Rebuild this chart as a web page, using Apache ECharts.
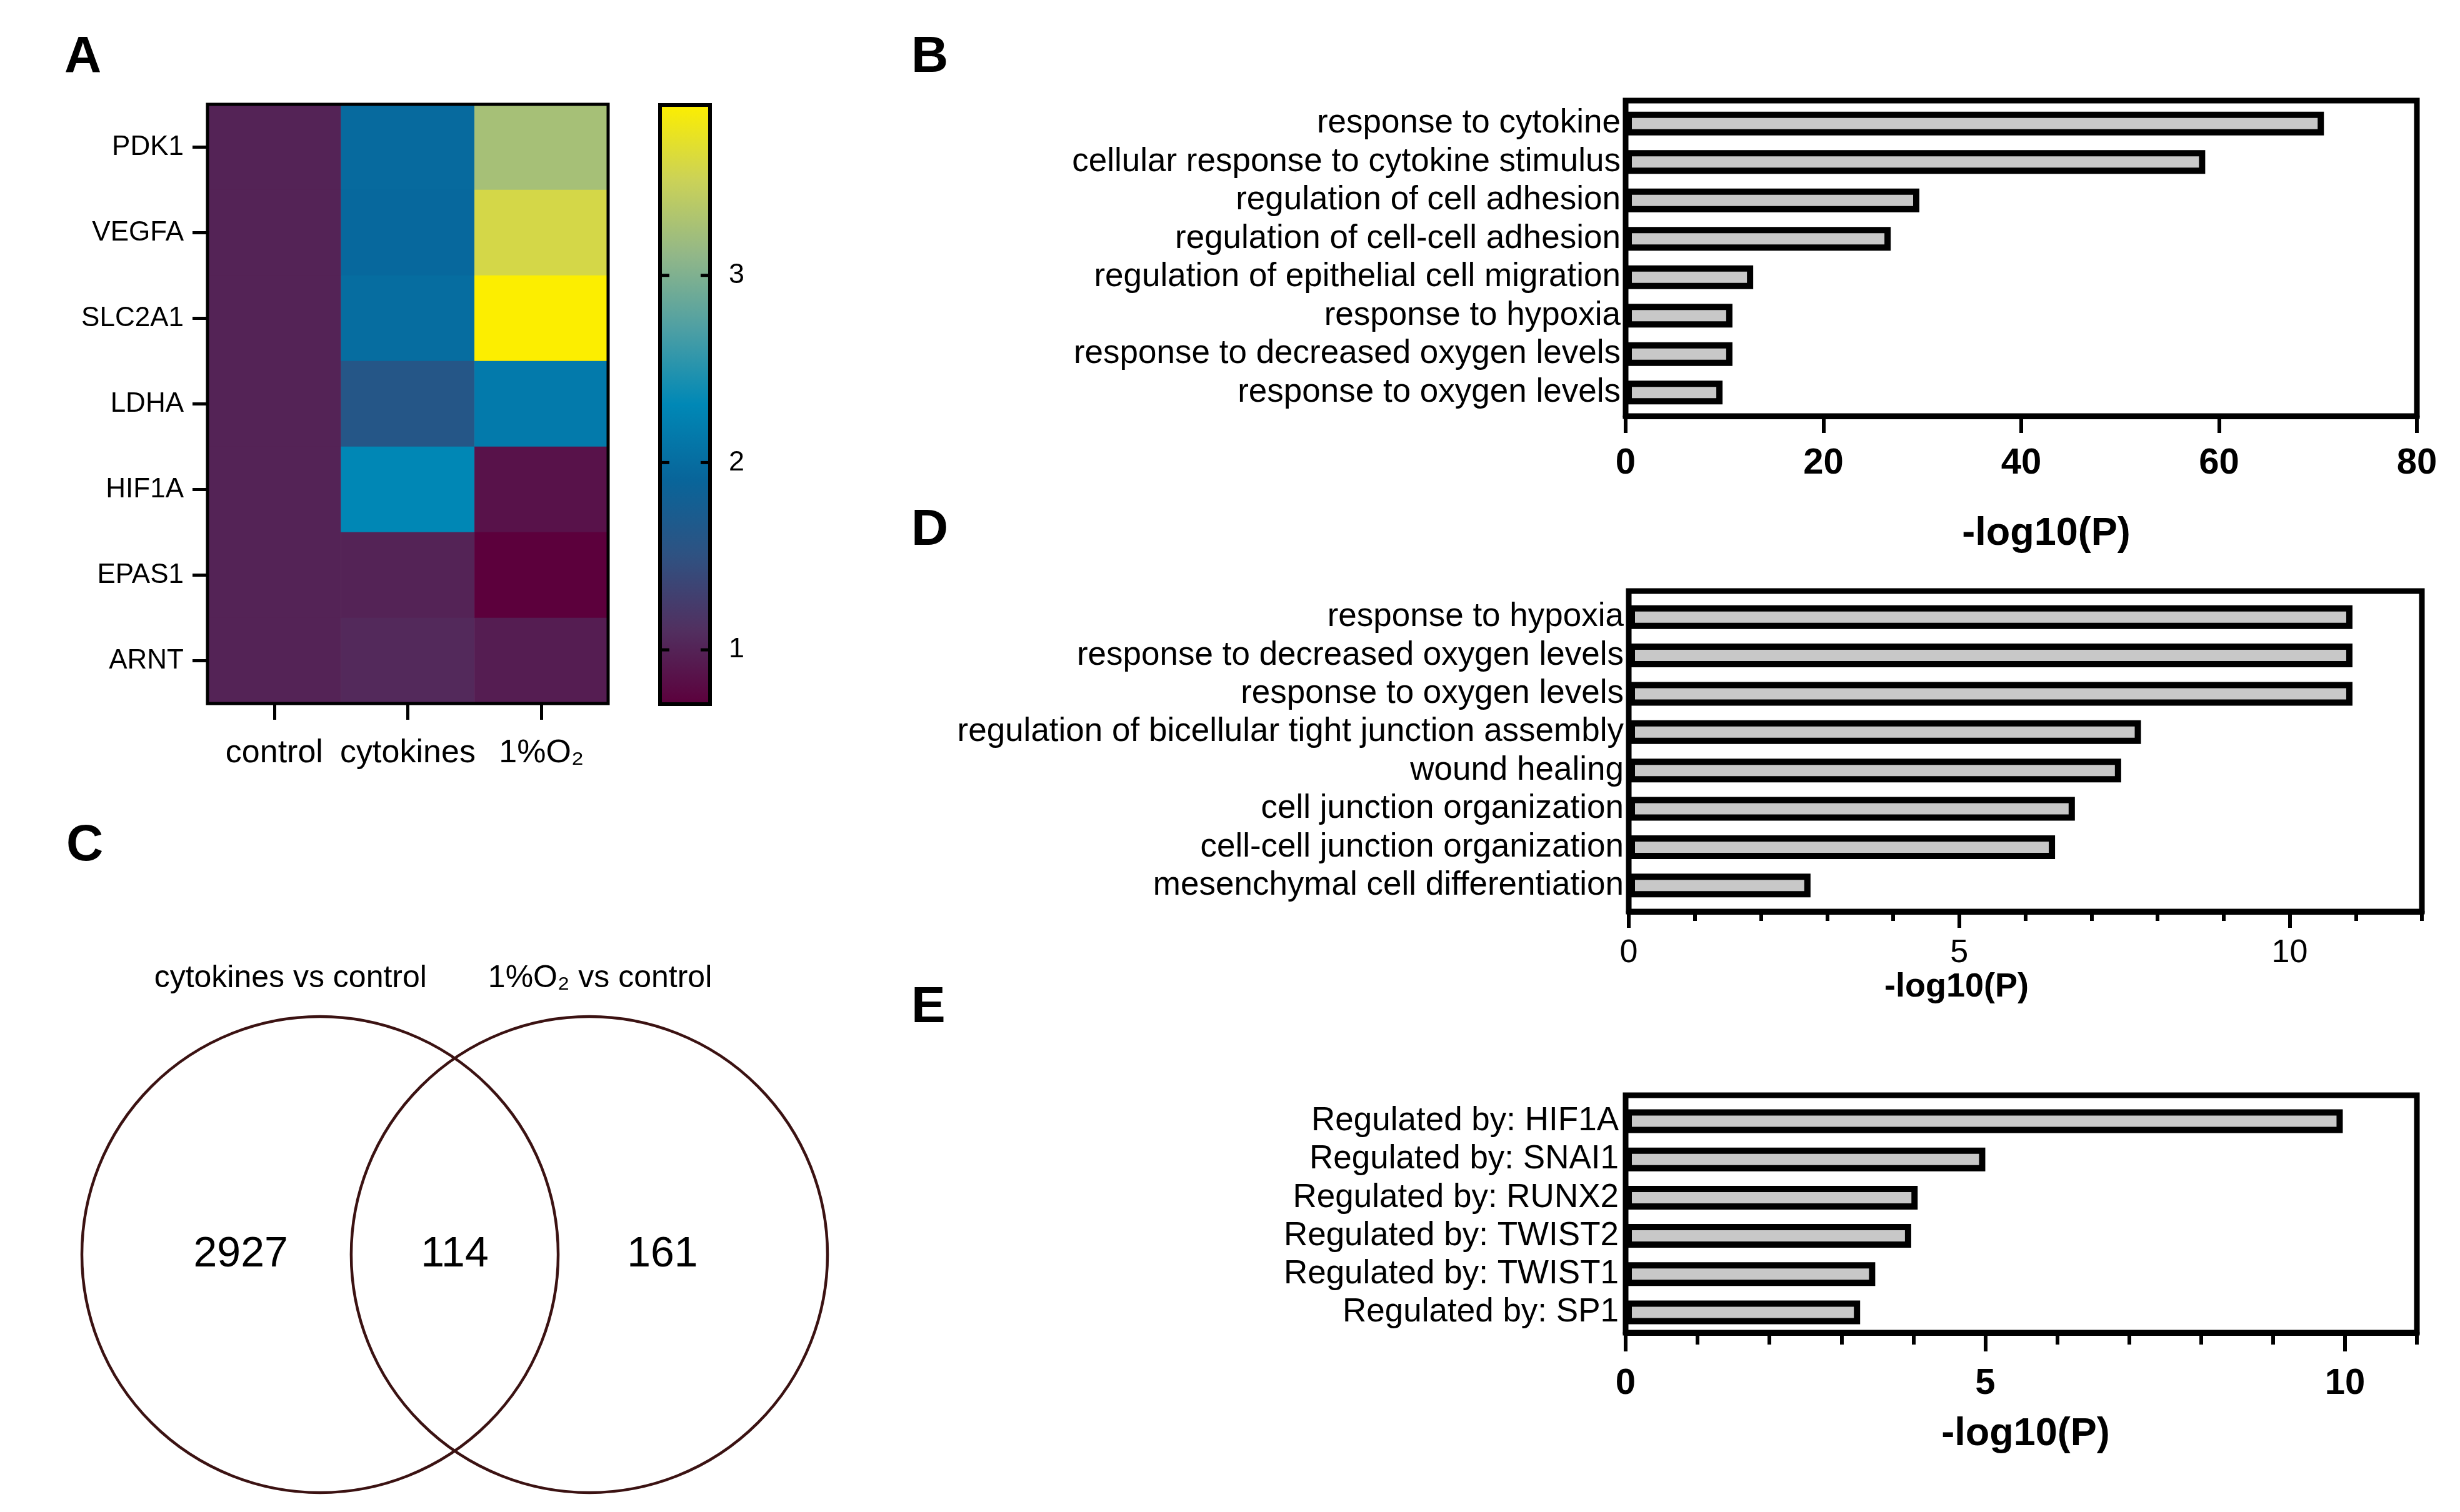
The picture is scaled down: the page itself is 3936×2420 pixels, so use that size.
<!DOCTYPE html>
<html><head><meta charset="utf-8">
<script src="https://cdn.jsdelivr.net/npm/echarts@6/dist/echarts.min.js"></script>
<style>html,body{margin:0;padding:0;background:#fff}#c{width:3936px;height:2420px}</style>
</head><body><div id="c"></div>
<script>
// ---------- data ----------
const heatGroups = ['control', 'cytokines', '1%O₂'];
const heatGenes = ['PDK1', 'VEGFA', 'SLC2A1', 'LDHA', 'HIF1A', 'EPAS1', 'ARNT'];
const heatControl = [1.0, 1.0, 1.0, 1.0, 1.0, 1.0, 1.0];
const heatCytokines = [1.97, 1.95, 2.0, 1.6, 2.3, 1.0, 1.05];
const heatHypoxia = [3.25, 3.58, 3.91, 2.15, 0.86, 0.71, 0.95];
const colorbarTicks = [1, 2, 3];
const heatColors = ['#5c003c', '#513060', '#2e5282', '#08659a', '#0088b6', '#4d9fa4', '#92b788', '#cbd257', '#fcee00'];

const bTerms = ['response to cytokine', 'cellular response to cytokine stimulus', 'regulation of cell adhesion',
  'regulation of cell-cell adhesion', 'regulation of epithelial cell migration', 'response to hypoxia',
  'response to decreased oxygen levels', 'response to oxygen levels'];
const bValues = [70.6, 58.6, 29.7, 26.8, 12.9, 10.8, 10.8, 9.8];
const bTicks = [0, 20, 40, 60, 80];

const dTerms = ['response to hypoxia', 'response to decreased oxygen levels', 'response to oxygen levels',
  'regulation of bicellular tight junction assembly', 'wound healing', 'cell junction organization',
  'cell-cell junction organization', 'mesenchymal cell differentiation'];
const dValues = [10.95, 10.95, 10.95, 7.75, 7.45, 6.75, 6.45, 2.75];
const dTicks = [0, 5, 10];

const eTerms = ['Regulated by: HIF1A', 'Regulated by: SNAI1', 'Regulated by: RUNX2',
  'Regulated by: TWIST2', 'Regulated by: TWIST1', 'Regulated by: SP1'];
const eValues = [9.97, 5.0, 4.06, 3.97, 3.47, 3.26];
const eTicks = [0, 5, 10];

const vennSets = ['cytokines vs control', '1%O₂ vs control'];
const vennCounts = [2927, 114, 161];

// ---------- build ----------
const FONT = "'Liberation Sans', Arial, sans-serif";
const heatData = [];
[heatControl, heatCytokines, heatHypoxia].forEach((col, ci) => {
  col.forEach((v, gi) => heatData.push([ci, gi, v]));
});
const allHeat = heatControl.concat(heatCytokines, heatHypoxia);
const cbMin = Math.min(...allHeat), cbMax = Math.max(...allHeat);
const gradStops = heatColors.map((c, i) => ({ offset: 1 - i / (heatColors.length - 1), color: c })).reverse();

const hidX = (gi, max) => ({ type: 'value', gridIndex: gi, min: 0, max: max, show: false });
const hidY = (gi) => ({ type: 'value', gridIndex: gi, min: 0, max: 1, show: false });
const catY = (gi, terms, margin) => ({
  type: 'category', gridIndex: gi, data: terms, inverse: true,
  axisLine: { show: false }, axisTick: { show: false },
  axisLabel: { interval: 0, margin: margin, fontSize: 53, color: '#000', fontFamily: FONT }
});
const frame = (left, top, width, height) => ({
  left, top, width, height, show: true, borderColor: '#000', borderWidth: 9, z: 5
});
const barStyle = { color: '#c8c8c8', borderColor: '#000', borderWidth: 10 };

// venn geometry (layout, radius units)
const vc1 = 1, vc2 = 2.131, vMid = (vc1 + vc2) / 2;

const option = {
  animation: false,
  backgroundColor: '#fff',
  textStyle: { fontFamily: FONT },
  title: [
    { text: 'A', left: 103, top: 51 },
    { text: 'B', left: 1458, top: 51 },
    { text: 'C', left: 106, top: 1313 },
    { text: 'D', left: 1458, top: 808 },
    { text: 'E', left: 1458, top: 1572 }
  ].map(t => Object.assign(t, { padding: 0, textStyle: { fontSize: 82, fontWeight: 'bold', color: '#000', fontFamily: FONT } })),
  visualMap: {
    type: 'continuous', show: false, min: cbMin, max: cbMax, seriesIndex: 0,
    inRange: { color: heatColors }
  },
  grid: [
    { left: 332, top: 167, width: 641, height: 959, show: true, borderColor: '#000', borderWidth: 5, z: 5 }, // 0 heatmap
    { left: 1056, top: 168, width: 80, height: 959, show: true, borderColor: '#000', borderWidth: 6, z: 5 }, // 1 colorbar
    frame(2601, 161, 1266, 505),   // 2 B frame
    { left: 2601, top: 167, width: 1266, height: 492 }, // 3 B bars
    frame(2606, 946, 1269, 513),   // 4 D frame
    { left: 2606, top: 957, width: 1269, height: 491 }, // 5 D bars
    frame(2601, 1753, 1266, 380),  // 6 E frame
    { left: 2601, top: 1764, width: 1266, height: 367 }, // 7 E bars
    { left: 131, top: 1627, width: 1193, height: 762 }   // 8 venn
  ],
  xAxis: [
    { // 0 heat
      type: 'category', gridIndex: 0, data: heatGroups, z: 6,
      axisLine: { show: false },
      axisTick: { show: true, interval: 0, alignWithLabel: true, length: 26, lineStyle: { color: '#000', width: 5 } },
      axisLabel: { interval: 0, margin: 54, fontSize: 52, color: '#000', fontFamily: FONT }
    },
    hidX(1, 1), // 1 colorbar
    { // 2 B frame
      type: 'value', gridIndex: 2, min: 0, max: 80, z: 6, position: 'bottom',
      axisLine: { show: true, lineStyle: { color: '#000', width: 9 } },
      axisTick: { show: true, customValues: bTicks, length: 27, lineStyle: { color: '#000', width: 6 } },
      axisLabel: { customValues: bTicks, margin: 47, fontSize: 58, fontWeight: 'bold', color: '#000', fontFamily: FONT },
      splitLine: { show: false },
      name: '-log10(P)', nameLocation: 'middle', nameGap: 157,
      nameTextStyle: { fontSize: 63, fontWeight: 'bold', color: '#000', fontFamily: FONT, padding: [0, 0, 0, 80] }
    },
    hidX(3, 80), // 3 B bars
    { // 4 D frame major
      type: 'value', gridIndex: 4, min: 0, max: 12, z: 6, position: 'bottom',
      axisLine: { show: true, lineStyle: { color: '#000', width: 9 } },
      axisTick: { show: true, customValues: dTicks, length: 26, lineStyle: { color: '#000', width: 6 } },
      axisLabel: { customValues: dTicks, margin: 41, fontSize: 52, color: '#000', fontFamily: FONT },
      splitLine: { show: false },
      name: '-log10(P)', nameLocation: 'middle', nameGap: 94,
      nameTextStyle: { fontSize: 54, fontWeight: 'bold', color: '#000', fontFamily: FONT, padding: [0, 220, 0, 0] }
    },
    { // 5 D frame minor
      type: 'value', gridIndex: 4, min: 0, max: 12, interval: 1, z: 6, position: 'bottom', offset: 0,
      axisLine: { show: false },
      axisTick: { show: true, length: 15, lineStyle: { color: '#000', width: 6 } },
      axisLabel: { show: false }, splitLine: { show: false }
    },
    hidX(5, 12), // 6 D bars
    { // 7 E frame major
      type: 'value', gridIndex: 6, min: 0, max: 11, z: 6, position: 'bottom',
      axisLine: { show: true, lineStyle: { color: '#000', width: 9 } },
      axisTick: { show: true, customValues: eTicks, length: 30, lineStyle: { color: '#000', width: 6 } },
      axisLabel: { customValues: eTicks, margin: 53, fontSize: 58, fontWeight: 'bold', color: '#000', fontFamily: FONT },
      splitLine: { show: false },
      name: '-log10(P)', nameLocation: 'middle', nameGap: 131,
      nameTextStyle: { fontSize: 63, fontWeight: 'bold', color: '#000', fontFamily: FONT, padding: [0, 0, 0, 14] }
    },
    { // 8 E frame minor
      type: 'value', gridIndex: 6, min: 0, max: 11, interval: 1, z: 6, position: 'bottom', offset: 0,
      axisLine: { show: false },
      axisTick: { show: true, length: 19, lineStyle: { color: '#000', width: 6 } },
      axisLabel: { show: false }, splitLine: { show: false }
    },
    hidX(7, 11), // 9 E bars
    { type: 'value', gridIndex: 8, min: 0, max: 3.131, show: false } // 10 venn
  ],
  yAxis: [
    { // 0 heat
      type: 'category', gridIndex: 0, data: heatGenes, inverse: true, z: 6,
      axisLine: { show: false },
      axisTick: { show: true, interval: 0, alignWithLabel: true, length: 24, lineStyle: { color: '#000', width: 5 } },
      axisLabel: { interval: 0, margin: 38, fontSize: 44, color: '#000', fontFamily: FONT }
    },
    { // 1 colorbar right (labels)
      type: 'value', gridIndex: 1, min: cbMin, max: cbMax, position: 'right',
      axisLine: { show: false },
      axisTick: { show: false },
      axisLabel: { customValues: colorbarTicks, margin: 30, fontSize: 45, color: '#000', fontFamily: FONT },
      splitLine: { show: false }
    },
    { type: 'value', gridIndex: 1, min: cbMin, max: cbMax, show: false }, // 2 unused
    hidY(2),                       // 3
    catY(3, bTerms, 8),            // 4
    hidY(4),                       // 5
    catY(5, dTerms, 8),            // 6
    hidY(6),                       // 7
    catY(7, eTerms, 11),           // 8
    { type: 'value', gridIndex: 8, min: 0, max: 2, show: false } // 9 venn
  ],
  series: [
    {
      type: 'heatmap', xAxisIndex: 0, yAxisIndex: 0, data: heatData,
      itemStyle: { borderWidth: 0 }, label: { show: false }
    },
    { // colorbar gradient + inside ticks at the scale's tick values
      type: 'custom', xAxisIndex: 1, yAxisIndex: 1, z: 1,
      data: [[0, cbMin, cbMax]],
      encode: { x: 0, y: [1, 2] },
      renderItem: function (params, api) {
        const p1 = api.coord([0, api.value(2)]);
        const p2 = api.coord([1, api.value(1)]);
        const children = [{
          type: 'rect',
          shape: { x: p1[0], y: p1[1], width: p2[0] - p1[0], height: p2[1] - p1[1] },
          style: { fill: new echarts.graphic.LinearGradient(0, 0, 0, 1, gradStops) }
        }];
        colorbarTicks.forEach(t => {
          const y = api.coord([0, t])[1];
          children.push({ type: 'line', shape: { x1: p1[0], y1: y, x2: p1[0] + 15, y2: y }, style: { stroke: '#000', lineWidth: 5 } });
          children.push({ type: 'line', shape: { x1: p2[0] - 15, y1: y, x2: p2[0], y2: y }, style: { stroke: '#000', lineWidth: 5 } });
        });
        return { type: 'group', children };
      }
    },
    { type: 'bar', xAxisIndex: 3, yAxisIndex: 4, data: bValues, barWidth: 38, itemStyle: barStyle },
    { type: 'bar', xAxisIndex: 6, yAxisIndex: 6, data: dValues, barWidth: 38, itemStyle: barStyle },
    { type: 'bar', xAxisIndex: 9, yAxisIndex: 8, data: eValues, barWidth: 38, itemStyle: barStyle },
    { // venn circles + set names
      type: 'custom', xAxisIndex: 10, yAxisIndex: 9, clip: false,
      data: vennSets.map((s, i) => ({ name: s, value: [i === 0 ? vc1 : vc2, 1, 1, i] })),
      renderItem: function (params, api) {
        const c = api.coord([api.value(0), api.value(1)]);
        const s = api.size([api.value(2), api.value(2)]);
        const i = api.value(3);
        const lp = api.coord([i === 0 ? vMid - 0.117 : vMid + 0.14, 2.16]);
        return {
          type: 'group',
          children: [
            { type: 'circle', shape: { cx: c[0], cy: c[1], r: s[0] },
              style: { fill: 'none', stroke: '#3b1212', lineWidth: 4.5 } },
            { type: 'text', x: lp[0], y: lp[1],
              style: { text: vennSets[i], fontSize: 50, fontFamily: FONT, fill: '#000',
                align: i === 0 ? 'right' : 'left', verticalAlign: 'middle' } }
          ]
        };
      }
    },
    { // venn counts
      type: 'custom', xAxisIndex: 10, yAxisIndex: 9, clip: false,
      data: vennCounts.map((n, i) => [[vc1 - 0.333, vMid, vc2 + 0.307][i], 1, n]),
      renderItem: function (params, api) {
        const p = api.coord([api.value(0), api.value(1)]);
        return {
          type: 'text', x: p[0], y: p[1],
          style: { text: String(api.value(2)), fontSize: 68, fontFamily: FONT, fill: '#000',
            align: 'center', verticalAlign: 'middle' }
        };
      }
    }
  ]
};

const chart = echarts.init(document.getElementById('c'), null, { renderer: 'canvas', width: 3936, height: 2420 });
chart.setOption(option);
</script>
</body></html>
